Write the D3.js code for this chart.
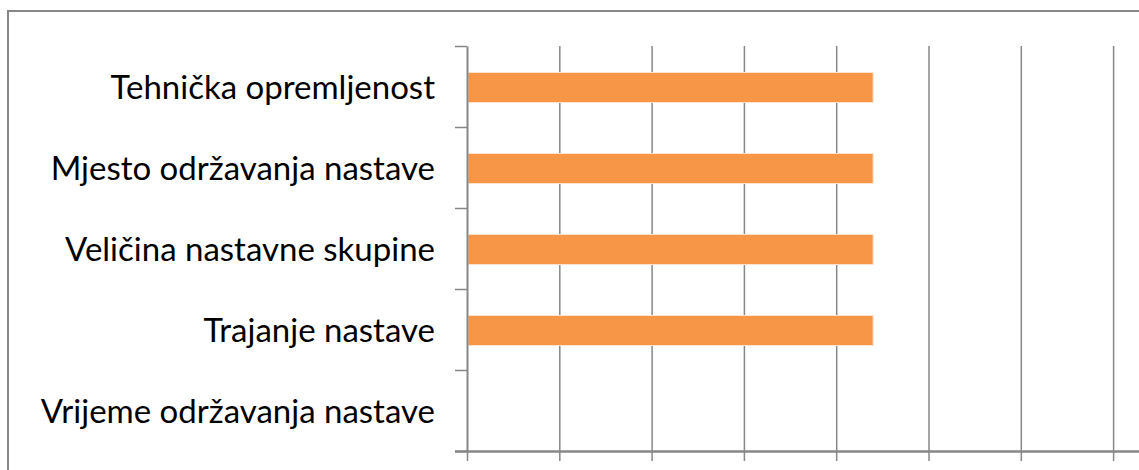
<!DOCTYPE html>
<html>
<head>
<meta charset="utf-8">
<script src="https://cdn.jsdelivr.net/npm/d3@7"></script>
<style>
  body { margin: 0; background: #fff; }
  svg { display: block; }
</style>
</head>
<body>
<div id="chart"></div>
<script>
const categories = [
  "Tehnička opremljenost",
  "Mjesto održavanja nastave",
  "Veličina nastavne skupine",
  "Trajanje nastave",
  "Vrijeme održavanja nastave"
];
const values = [4.4, 4.4, 4.4, 4.4, 0];
const xTicks = [0, 1, 2, 3, 4, 5, 6, 7, 8];

const width = 1139, height = 470;
const plotLeft = 467, plotTop = 46, plotBottom = 451;
const unit = 92.3;
const gridColor = "#878787";

const svg = d3.select("#chart").append("svg")
  .attr("width", width)
  .attr("height", height);

// chart frame (right and bottom edges fall outside the view)
svg.append("rect")
  .attr("x", 8).attr("y", 11)
  .attr("width", 1200).attr("height", 520)
  .attr("fill", "#fff")
  .attr("stroke", gridColor)
  .attr("stroke-width", 2);

const x = d3.scaleLinear()
  .domain([0, 8])
  .range([plotLeft, plotLeft + 8 * unit]);

const y = d3.scaleBand()
  .domain(categories)
  .range([plotTop, plotBottom]);

const yIdx = d3.scaleLinear().domain([0, categories.length]).range([plotTop, plotBottom]);

// vertical gridlines
svg.append("g")
  .attr("transform", `translate(0,${plotBottom})`)
  .call(d3.axisBottom(x).tickValues(xTicks.slice(1)).tickSize(-(plotBottom - plotTop)).tickFormat(""))
  .call(g => g.select(".domain").remove())
  .call(g => g.selectAll(".tick line").attr("stroke", gridColor).attr("stroke-width", 1.5));

// bars
const barH = 30;
svg.append("g")
  .selectAll("rect")
  .data(categories)
  .join("rect")
  .attr("x", x(0) + 1)
  .attr("y", d => y(d) + y.bandwidth() / 2 - barH / 2 + 1)
  .attr("width", (d, i) => Math.max(0, x(values[i]) - x(0) - 1))
  .attr("height", barH)
  .attr("fill", "#F79646")
  .attr("stroke", "#fde3cf")
  .attr("stroke-width", (d, i) => values[i] > 0 ? 1 : 0);

// x axis (bottom)
svg.append("g")
  .attr("transform", `translate(0,${plotBottom})`)
  .call(d3.axisBottom(x).tickValues(xTicks).tickSize(10).tickSizeOuter(0).tickFormat(""))
  .call(g => g.select(".domain").attr("stroke", gridColor).attr("stroke-width", 2.5)
    .attr("d", `M${plotLeft - 12},0.5H${width + 10}`))
  .call(g => g.selectAll(".tick line").attr("stroke", gridColor).attr("stroke-width", 1.5));

// y axis with ticks between categories
svg.append("g")
  .attr("transform", `translate(${plotLeft},0)`)
  .call(d3.axisLeft(yIdx).ticks(categories.length).tickSize(12).tickSizeOuter(0).tickFormat(""))
  .call(g => g.select(".domain").attr("stroke", gridColor).attr("stroke-width", 2))
  .call(g => g.selectAll(".tick line").attr("stroke", gridColor).attr("stroke-width", 1.5));

// category labels
svg.append("g")
  .selectAll("text")
  .data(categories)
  .join("text")
  .attr("x", 435)
  .attr("y", d => y(d) + y.bandwidth() / 2 + 12)
  .attr("text-anchor", "end")
  .attr("font-family", "Lato, 'Open Sans', sans-serif")
  .attr("font-size", 33)
  .attr("fill", "#000")
  .text(d => d);
</script>
</body>
</html>
